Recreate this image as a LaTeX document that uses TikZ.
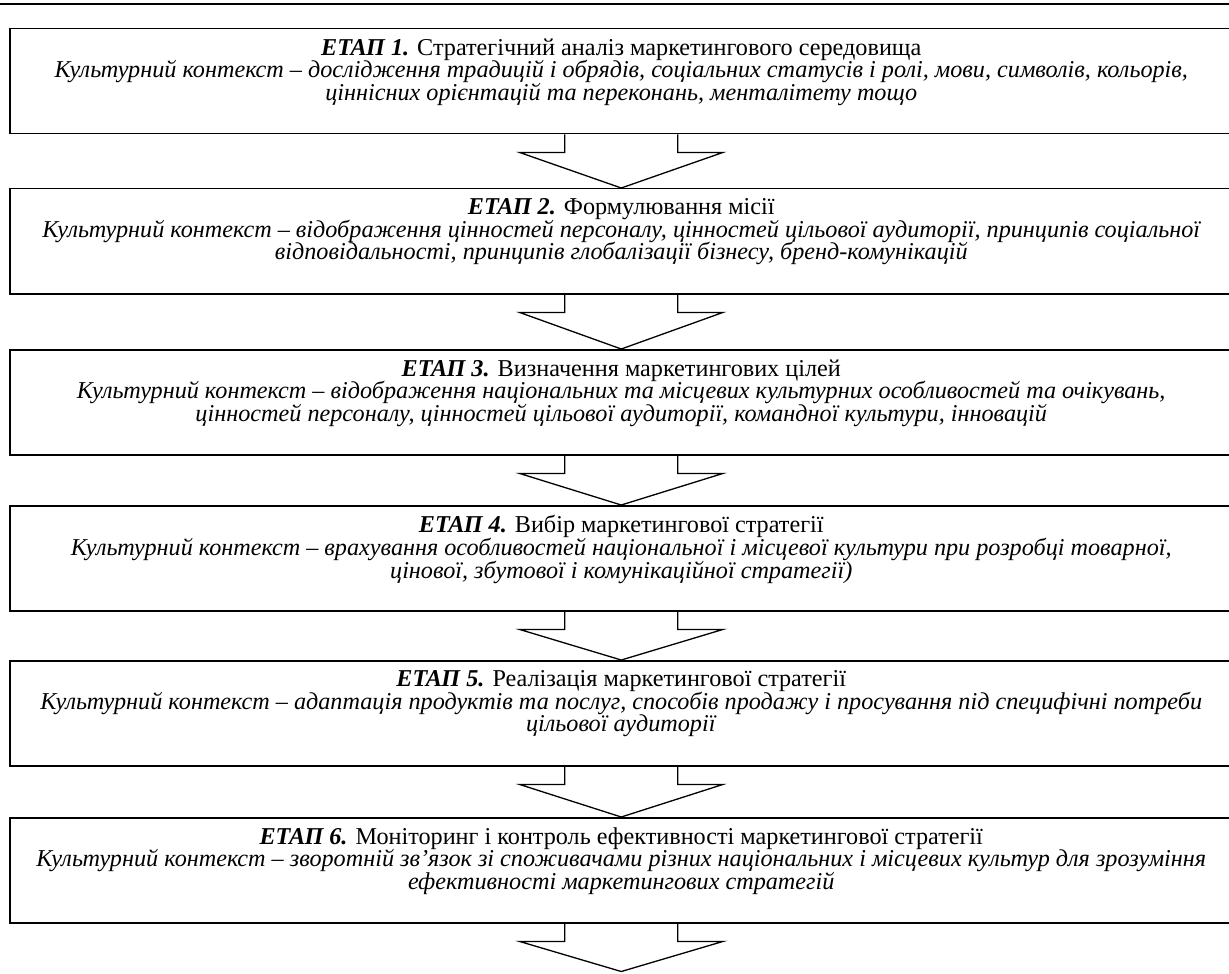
\documentclass[tikz,border=0pt]{standalone}
\usepackage{fontspec}
\setmainfont{Liberation Serif}
\usetikzlibrary{calc}
\tikzset{
  stagebox/.style={draw, line width=0.75pt, inner sep=0pt, anchor=north west,
    font=\fontsize{12.1}{11.3}\selectfont},
  stagearrow/.style={draw, line width=0.65pt, line join=miter}
}
\newcommand{\stagetext}[3]{\parbox[c][52.5pt][t]{611.5pt}{\centering\vspace*{4.9pt}\textbf{\textit{#1}} #2\\\textit{#3}}}
\newcommand{\stagearrowdraw}[2]{%
  \draw[stagearrow] ($(#1.south)+(-56.5,0)$) -- ++(0,18) -- ++(-45,0) -- (#2)
    -- ($(#1.south)+(101.5,18)$) -- ++(-45,0) -- ($(#1.south)+(56.5,0)$);}

\begin{document}
\begin{tikzpicture}[x=0.5pt,y=-0.5pt]
\useasboundingbox (0,0) rectangle (1229,973);
\draw[line width=1pt] (0,4.5) -- (1229,4.5);
\node[stagebox] (b1) at (9,28) {\stagetext{ЕТАП 1.}{Стратегічний аналіз маркетингового середовища}{Культурний контекст – дослідження традицій і обрядів, соціальних статусів і ролі, мови, символів, кольорів,\\ціннісних орієнтацій та переконань, менталітету тощо}};
\node[stagebox] (b2) at (9,188) {\stagetext{ЕТАП 2.}{Формулювання місії}{Культурний контекст – відображення цінностей персоналу, цінностей цільової аудиторії, принципів соціальної\\відповідальності, принципів глобалізації бізнесу, бренд-комунікацій}};
\node[stagebox] (b3) at (9,349) {\stagetext{ЕТАП 3.}{Визначення маркетингових цілей}{Культурний контекст – відображення національних та місцевих культурних особливостей та очікувань,\\цінностей персоналу, цінностей цільової аудиторії, командної культури, інновацій}};
\node[stagebox] (b4) at (9,505) {\stagetext{ЕТАП 4.}{Вибір маркетингової стратегії}{Культурний контекст – врахування особливостей національної і місцевої культури при розробці товарної,\\цінової, збутової і комунікаційної стратегії)}};
\node[stagebox] (b5) at (9,660) {\stagetext{ЕТАП 5.}{Реалізація маркетингової стратегії}{Культурний контекст – адаптація продуктів та послуг, способів продажу і просування під специфічні потреби\\цільової аудиторії}};
\node[stagebox] (b6) at (9,817) {\stagetext{ЕТАП 6.}{Моніторинг і контроль ефективності маркетингової стратегії}{Культурний контекст – зворотній зв’язок зі споживачами різних національних і місцевих культур для зрозуміння\\ефективності маркетингових стратегій}};
\coordinate (tipend) at ($(b6.south)+(0,48)$);
\stagearrowdraw{b1}{b2.north}
\stagearrowdraw{b2}{b3.north}
\stagearrowdraw{b3}{b4.north}
\stagearrowdraw{b4}{b5.north}
\stagearrowdraw{b5}{b6.north}
\stagearrowdraw{b6}{tipend}
\end{tikzpicture}
\end{document}
